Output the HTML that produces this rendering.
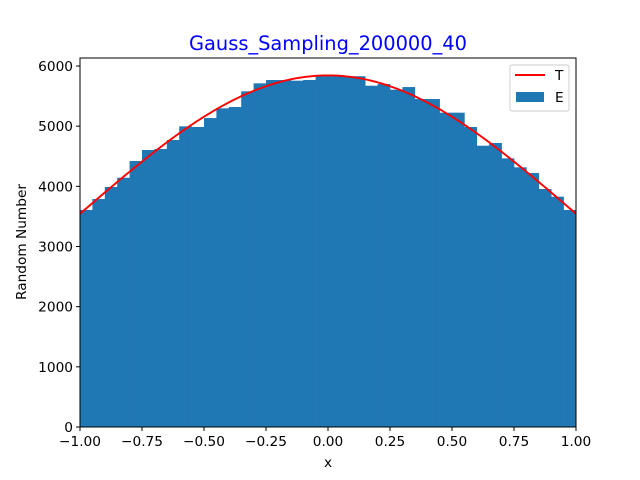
<!DOCTYPE html>
<html><head><meta charset="utf-8"><style>
body{margin:0;background:#fff;}
svg{display:block;font-family:"DejaVu Sans","Liberation Sans",sans-serif;}
</style></head><body>
<svg id="chart" width="640" height="480" viewBox="0 0 640 480">
<rect width="640" height="480" fill="#fff"/>
<text x="328" y="50" font-size="19.4" fill="#0000ff" text-anchor="middle">Gauss_Sampling_200000_40</text>
<g id="bars"></g>
<path id="curve" fill="none" stroke="#ff0000" stroke-width="1.9"/>
<rect x="80" y="58" width="496" height="369" fill="none" stroke="#000" stroke-width="1"/>
<g id="xticks"></g>
<g id="yticks"></g>
<text x="328" y="467" font-size="13.7" text-anchor="middle">x</text>
<text transform="translate(26,242) rotate(-90)" font-size="13.7" text-anchor="middle">Random Number</text>
<g>
<rect x="510" y="65" width="59" height="46" rx="2" fill="#fff" fill-opacity="0.8" stroke="#ccc"/>
<line x1="515" y1="75" x2="545" y2="75" stroke="#ff0000" stroke-width="1.9"/>
<text x="555" y="80" font-size="13.7">T</text>
<rect x="516" y="92" width="28" height="10" fill="#1f77b4"/>
<text x="555" y="102" font-size="13.7">E</text>
</g>
</svg>
<script>
const counts=[3607,3789,3989,4143,4421,4604,4620,4770,4997,4986,5135,5296,5318,5579,5712,5767,5767,5756,5767,5840,5835,5830,5830,5672,5700,5606,5650,5451,5451,5224,5224,4986,4675,4720,4465,4316,4221,3955,3828,3607];
const xTicks=[-1.0,-0.75,-0.5,-0.25,0.0,0.25,0.5,0.75,1.0];
const xTickLabels=["\u22121.00","\u22120.75","\u22120.50","\u22120.25","0.00","0.25","0.50","0.75","1.00"];
const yTicks=[0,1000,2000,3000,4000,5000,6000];
const nSamples=200000;
const xMin=-1,xMax=1;
const NS="http://www.w3.org/2000/svg";
const X0=80,X1=576,Y0=427,Y6000=66;
const xs=v=>X0+(v-xMin)/(xMax-xMin)*(X1-X0);
const ys=v=>Y0-v/6000*(Y0-Y6000);
const bars=document.getElementById('bars');
const nb=counts.length,bw=(xMax-xMin)/nb;
counts.forEach((c,i)=>{
  const r=document.createElementNS(NS,'rect');
  const a=xs(xMin+i*bw),b=xs(xMin+(i+1)*bw);
  r.setAttribute('x',a);r.setAttribute('width',b-a+0.3);
  r.setAttribute('y',ys(c));r.setAttribute('height',Y0-ys(c));
  r.setAttribute('fill','#1f77b4');
  
  
  bars.appendChild(r);
});
let integ=0;const M=2000;
for(let k=0;k<M;k++){const x=xMin+(k+0.5)*(xMax-xMin)/M;integ+=Math.exp(-x*x/2)*(xMax-xMin)/M;}
const A=nSamples*bw/integ;
let d='';
for(let k=0;k<=200;k++){const x=xMin+k*(xMax-xMin)/200;d+=(k?'L':'M')+xs(x).toFixed(2)+','+ys(A*Math.exp(-x*x/2)).toFixed(2);}
document.getElementById('curve').setAttribute('d',d);
const xt=document.getElementById('xticks');
xTicks.forEach((v,i)=>{
  const l=document.createElementNS(NS,'line');
  l.setAttribute('x1',xs(v));l.setAttribute('x2',xs(v));l.setAttribute('y1',Y0);l.setAttribute('y2',Y0+4);l.setAttribute('stroke','#000');
  
  
  xt.appendChild(l);
  const t=document.createElementNS(NS,'text');
  t.setAttribute('x',xs(v));t.setAttribute('y',Y0+19);t.setAttribute('font-size','13.7');t.setAttribute('text-anchor','middle');
  t.textContent=xTickLabels[i];
  
  
  xt.appendChild(t);
});
const yt=document.getElementById('yticks');
yTicks.forEach(v=>{
  const l=document.createElementNS(NS,'line');
  l.setAttribute('x1',X0-4);l.setAttribute('x2',X0);l.setAttribute('y1',ys(v));l.setAttribute('y2',ys(v));l.setAttribute('stroke','#000');
  
  
  yt.appendChild(l);
  const t=document.createElementNS(NS,'text');
  t.setAttribute('x',X0-7);t.setAttribute('y',ys(v)+5);t.setAttribute('font-size','13.7');t.setAttribute('text-anchor','end');
  t.textContent=String(v);
  
  
  yt.appendChild(t);
});
</script>
</body></html>
